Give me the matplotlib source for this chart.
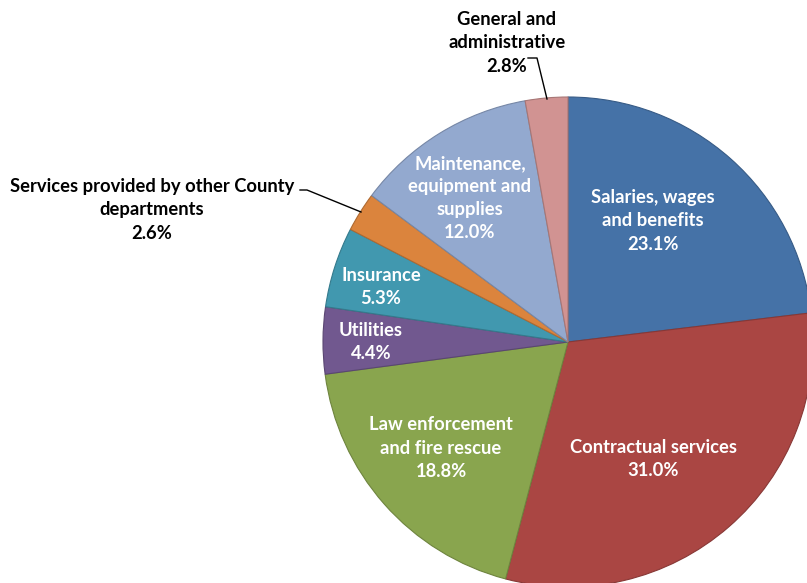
import matplotlib
matplotlib.use("Agg")
import matplotlib.pyplot as plt
import matplotlib.colors as mcolors

categories = ["Salaries, wages\nand benefits", "Contractual services", "Law enforcement\nand fire rescue",
              "Utilities", "Insurance", "Services provided by other County\ndepartments",
              "Maintenance,\nequipment and\nsupplies", "General and\nadministrative"]
values = [23.1, 31.0, 18.8, 4.4, 5.3, 2.6, 12.0, 2.8]
colors = ["#4572A7", "#AA4643", "#89A54E", "#71588F", "#4198AF", "#DB843D", "#93A9CF", "#D19392"]

W, H = 807, 583
fig = plt.figure(figsize=(W / 100, H / 100), dpi=100)
ax = fig.add_axes([0, 0, 1, 1])

cx, cy, r = 568, H - 342, 245
edge = [tuple(c * 0.8 for c in mcolors.to_rgb(col)) for col in colors]
wedges, _ = ax.pie(values, colors=colors, startangle=90, counterclock=False,
                   center=(cx, cy), radius=r, frame=True,
                   wedgeprops=dict(linewidth=0.8))
for w, e in zip(wedges, edge):
    w.set_edgecolor(e)
ax.set_xlim(0, W)
ax.set_ylim(0, H)
ax.set_aspect("equal")
ax.axis("off")

font = dict(family=["Lato", "DejaVu Sans"], fontweight="bold", fontsize=13.2, linespacing=1.43,
            ha="center", va="center")

# label positions (pixel coords, y from top) and text colours
label_pos = [(653, 221, "white"), (653, 459, "white"), (441, 448, "white"), (371, 342, "white"),
             (381, 287, "white"), (152, 210, "black"), (470, 198, "white"), (507, 43, "black")]
for cat, val, (x, y, tc) in zip(categories, values, label_pos):
    ax.text(x, H - y, f"{cat}\n{val:.1f}%", color=tc, **font)

# leader lines
ax.plot([528, 537, 547], [H - 58, H - 58, H - 99], color="black", lw=1)
ax.plot([300, 307, 361], [H - 190, H - 190, H - 212], color="black", lw=1)

fig.savefig("out.png", dpi=100)
